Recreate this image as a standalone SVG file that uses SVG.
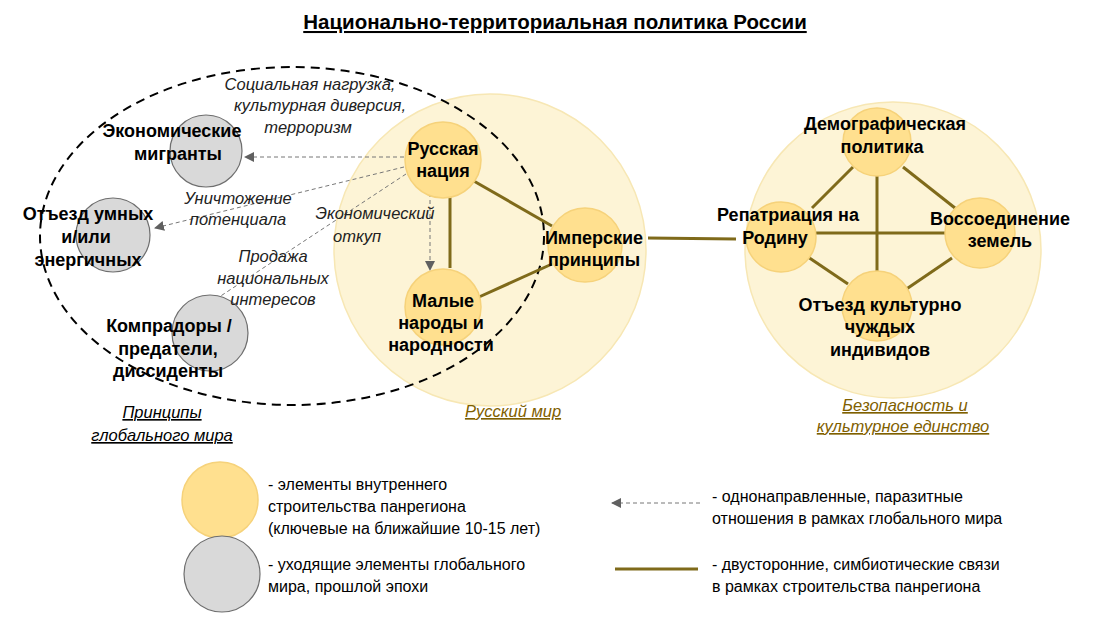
<svg xmlns="http://www.w3.org/2000/svg" width="1096" height="639" viewBox="0 0 1096 639">
<style>
text{font-family:"Liberation Sans",Arial,sans-serif;fill:#000}
.b{font-weight:bold;font-size:18px;text-anchor:middle}
.i{font-style:italic;font-size:16.5px;text-anchor:middle;fill:#222}
.cap{font-style:italic;font-size:16.5px;text-anchor:middle;fill:#7F6000;text-decoration:underline}
.lg{font-size:16px}
.big{fill:#FDF4D6;stroke:#F7E7B4;stroke-width:1.5}
.y{fill:#FFE08F;stroke:#F6D27A;stroke-width:1.5}
.g{fill:#D9D9D9;stroke:#6E6E6E;stroke-width:1.2}
.s{stroke:#7F6A1A;stroke-width:3;fill:none}
.d{stroke:#777;stroke-width:1;stroke-dasharray:4,3;fill:none;marker-end:url(#ah)}
</style>
<defs><marker id="ah" markerWidth="10" markerHeight="10" refX="9" refY="5" orient="auto" markerUnits="userSpaceOnUse"><path d="M0,0 L10,5 L0,10 z" fill="#606060"/></marker></defs>
<rect width="1096" height="639" fill="#fff"/>
<text x="555" y="29" style="font-weight:bold;font-size:20.5px;text-anchor:middle;text-decoration:underline">Национально-территориальная политика России</text>
<g id="russkiy-mir"><circle class="big" cx="490" cy="250" r="156"/><text class="cap" x="513" y="417">Русский мир</text></g>
<g id="bezopasnost"><circle class="big" cx="893" cy="250" r="148"/><text class="cap" x="905" y="411">Безопасность и</text><text class="cap" x="903" y="432">культурное единство</text></g>
<g id="global"><ellipse cx="292" cy="236" rx="252" ry="169" fill="none" stroke="#000" stroke-width="2" stroke-dasharray="9,6"/><text class="cap" x="162" y="418" style="fill:#000">Принципы</text><text class="cap" x="162" y="441" style="fill:#000">глобального мира</text></g>
<g id="connectors">
<line class="s" x1="450" y1="196" x2="450" y2="268"/>
<line class="s" x1="472" y1="180" x2="552" y2="226"/>
<line class="s" x1="479" y1="297" x2="552" y2="264"/>
<line class="s" x1="648" y1="238" x2="736" y2="239"/>
<line class="s" x1="853" y1="167" x2="812" y2="208"/>
<line class="s" x1="903" y1="167" x2="955" y2="208"/>
<line class="s" x1="877" y1="176" x2="877" y2="273"/>
<line class="s" x1="815" y1="233" x2="946" y2="233"/>
<line class="s" x1="808" y1="257" x2="848" y2="284"/>
<line class="s" x1="952" y1="258" x2="905" y2="290"/>
<line class="d" x1="404" y1="157" x2="245" y2="157"/>
<line class="d" x1="404" y1="167" x2="155" y2="228"/>
<line class="d" x1="406" y1="174" x2="207" y2="305"/>
<line class="d" x1="430" y1="193" x2="430" y2="270"/>
</g>
<g id="n-russkaya"><circle class="y" cx="443" cy="160" r="38"/><text class="b" x="443" y="155">Русская</text><text class="b" x="443" y="177">нация</text></g>
<g id="n-malye"><circle class="y" cx="443" cy="307" r="38"/><text class="b" x="443" y="307">Малые</text><text class="b" x="441" y="329">народы и</text><text class="b" x="441" y="351">народности</text></g>
<g id="n-imper"><circle class="y" cx="585" cy="245" r="37"/><text class="b" x="594" y="244">Имперские</text><text class="b" x="594" y="266">принципы</text></g>
<g id="n-migr"><circle class="g" cx="206" cy="151" r="36"/><text class="b" x="172" y="137">Экономические</text><text class="b" x="178" y="160">мигранты</text></g>
<g id="n-otezd"><circle class="g" cx="113" cy="235" r="37"/><text class="b" x="88" y="220">Отъезд умных</text><text class="b" x="86" y="243">и/или</text><text class="b" x="88" y="266">энергичных</text></g>
<g id="n-kompr"><circle class="g" cx="210" cy="333" r="38"/><text class="b" x="169" y="332">Компрадоры /</text><text class="b" x="168" y="355">предатели,</text><text class="b" x="168" y="377">диссиденты</text></g>
<g id="labels">
<text class="i" x="310" y="90">Социальная нагрузка,</text>
<text class="i" x="320" y="111">культурная диверсия,</text>
<text class="i" x="308" y="133">терроризм</text>
<text class="i" x="238" y="204">Уничтожение</text>
<text class="i" x="238" y="225">потенциала</text>
<text class="i" x="375" y="219">Экономический</text>
<text class="i" x="357" y="242">откуп</text>
<text class="i" x="273" y="262">Продажа</text>
<text class="i" x="273" y="284">национальных</text>
<text class="i" x="273" y="305">интересов</text>
</g>
<g id="n-demo"><circle class="y" cx="877" cy="142" r="34"/><text class="b" x="885" y="130">Демографическая</text><text class="b" x="882" y="153">политика</text></g>
<g id="n-repat"><circle class="y" cx="781" cy="237" r="35"/><text class="b" x="788" y="221">Репатриация на</text><text class="b" x="775" y="244">Родину</text></g>
<g id="n-vosso"><circle class="y" cx="980" cy="233" r="35"/><text class="b" x="1000" y="225">Воссоединение</text><text class="b" x="1000" y="247">земель</text></g>
<g id="n-otezd2"><circle class="y" cx="877" cy="306" r="35"/><text class="b" x="880" y="311">Отъезд культурно</text><text class="b" x="880" y="333">чуждых</text><text class="b" x="880" y="356">индивидов</text></g>
<g id="legend">
<circle class="y" cx="220" cy="500" r="38"/>
<circle class="g" cx="222" cy="574" r="38"/>
<text class="lg" x="268" y="490">- элементы внутреннего</text>
<text class="lg" x="268" y="512">строительства панрегиона</text>
<text class="lg" x="268" y="534">(ключевые на ближайшие 10-15 лет)</text>
<text class="lg" x="268" y="570">- уходящие элементы глобального</text>
<text class="lg" x="268" y="592">мира, прошлой эпохи</text>
<line class="d" x1="700" y1="503" x2="612" y2="503"/>
<line class="s" x1="615" y1="569" x2="698" y2="569"/>
<text class="lg" x="712" y="502">- однонаправленные, паразитные</text>
<text class="lg" x="712" y="524">отношения в рамках глобального мира</text>
<text class="lg" x="712" y="570">- двусторонние, симбиотические связи</text>
<text class="lg" x="712" y="592">в рамках строительства панрегиона</text>
</g>
</svg>
